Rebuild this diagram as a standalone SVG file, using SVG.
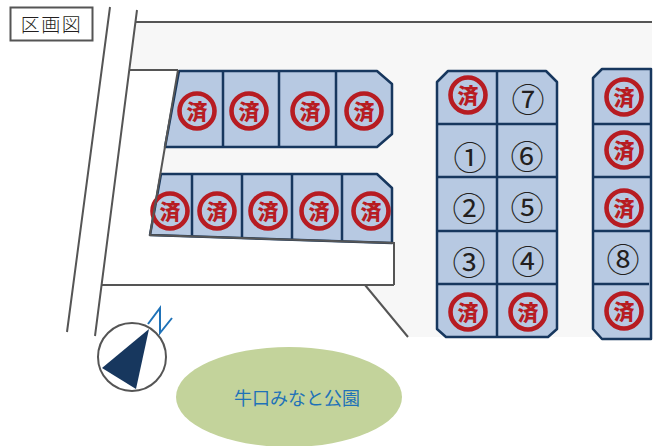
<svg xmlns="http://www.w3.org/2000/svg" width="656" height="446" viewBox="0 0 656 446">
<style>
.lot{fill:#b7c9e2;stroke:#17375e;stroke-width:2.5;stroke-linejoin:round}
.div{stroke:#17375e;stroke-width:2.5;fill:none}
.road{stroke:#555;stroke-width:2;fill:none}
.ring{fill:none;stroke:#b71c22;stroke-width:4.6}
.sumi{font-family:"Noto Sans CJK JP",sans-serif;font-weight:900;font-size:21px;fill:#b71c22;text-anchor:middle}
.num{font-family:"Noto Sans CJK JP",sans-serif;font-size:33px;fill:#231f20;text-anchor:middle}
</style>
<defs>
<g id="s"><circle class="ring" r="17.5"/><text class="sumi" y="8">済</text></g>
</defs>
<rect width="656" height="446" fill="#fff"/>
<polygon id="ground" points="136,22 652,22 652,337 408,337 365,285 394,285 394,243 150,235 178,70 130,70" fill="#f7f7f7"/>
<g id="roads">
<path class="road" d="M110,7L67,332M137,10L95,336M135,22H652M130,70H178M102,285H394M365,285L408,337"/>
</g>
<g id="label">
<rect x="10.500" y="7.500" width="82" height="33" fill="#fff" stroke="#555" stroke-width="2"/>
<text x="51.500" y="32" font-family="'Noto Sans CJK JP',sans-serif" font-size="19" font-weight="300" letter-spacing="1.500" text-anchor="middle" fill="#231f20">区画図</text>
</g>
<g id="block1">
<polygon class="lot" points="179,71 377,71 392,84 392,134 377,147 165,147"/>
<path class="div" d="M223,71V147M279,71V147M336,71V147"/>
<use href="#s" x="197" y="111"/><use href="#s" x="249" y="111"/><use href="#s" x="310" y="111"/><use href="#s" x="364" y="111"/>
</g>
<g id="block2">
<polygon class="lot" points="161,174 377,174 392,188 392,243 150,235"/>
<path class="div" d="M192,174V236M242,174V238M292,174V240M342,174V241"/>
<use href="#s" x="170" y="211"/><use href="#s" x="217" y="211"/><use href="#s" x="268" y="211"/><use href="#s" x="319" y="211"/><use href="#s" x="371" y="211"/>
</g>
<path id="edge" class="road" d="M178,70L150,235L394,243V285"/>
<g id="block3">
<polygon class="lot" points="448,71 546,71 557,82 557,329 548,337 446,337 437,329 437,82"/>
<path class="div" d="M497,71V337M437,124H557M437,177H557M437,231H557M437,284H557"/>
<use href="#s" x="468" y="95"/><use href="#s" x="468" y="312"/><use href="#s" x="528" y="312"/>
<text class="num" x="528" y="111.500">⑦</text>
<text class="num" x="470" y="169.500">①</text>
<text class="num" x="527" y="168.500">⑥</text>
<text class="num" x="469" y="220.500">②</text>
<text class="num" x="527" y="219.500">⑤</text>
<text class="num" x="469" y="274.500">③</text>
<text class="num" x="528" y="273.500">④</text>
</g>
<g id="block4">
<polygon class="lot" points="602,69 651,69 651,339 602,339 593,329 593,78"/>
<path class="div" d="M593,124H651M593,177H651M593,231H651M593,284H649"/>
<use href="#s" x="624" y="97"/><use href="#s" x="624" y="150"/><use href="#s" x="624" y="208"/><use href="#s" x="624" y="311"/>
<text class="num" x="623" y="271.500">⑧</text>
</g>
<g id="compass">
<circle cx="132" cy="357" r="34" fill="#fff" stroke="#555" stroke-width="2"/>
<polygon points="149,329 102,368 136,389" fill="#17375e"/>
<polyline points="148,324 160,308 160,333 172,318" fill="none" stroke="#1f72b8" stroke-width="2"/>
</g>
<g id="park">
<ellipse cx="289" cy="397" rx="113" ry="50" fill="#c3d39b"/>
<text x="297" y="405" font-family="'Noto Sans CJK JP',sans-serif" font-size="18" text-anchor="middle" fill="#1f72b8">牛口みなと公園</text>
</g>
</svg>
